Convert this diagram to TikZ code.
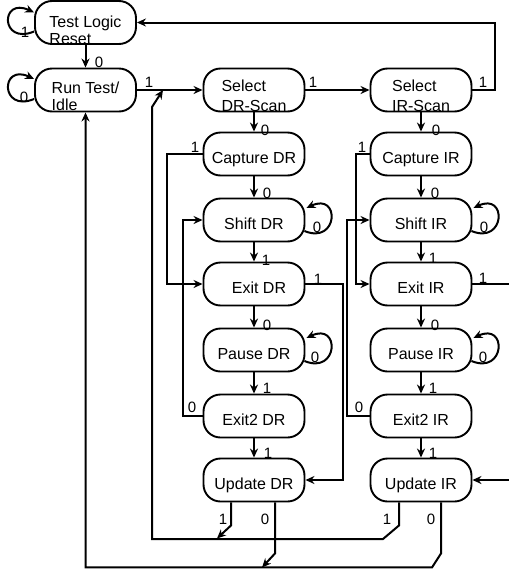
\documentclass[tikz,border=0pt]{standalone}
\usepackage{fontspec}
\setmainfont{Liberation Sans}
\usetikzlibrary{arrows.meta,calc}
\begin{document}
\begin{tikzpicture}[x=1pt,y=-1pt,
  box/.style={draw, line width=1.9pt, rounded corners=17pt, minimum width=101pt, minimum height=43pt, inner sep=0pt},
  one/.style={font=\fontsize{16}{19}\selectfont, text height=18.4pt, text depth=0pt},
  twol/.style={align=left, inner sep=0pt, font=\fontsize{16}{17}\selectfont},
  twolb/.style={align=left, inner sep=0pt, font=\fontsize{16}{20}\selectfont},
  lbl/.style={inner sep=0pt, font=\fontsize{15}{17}\selectfont},
  conn/.style={line width=2pt, -{Stealth[length=9pt,width=8pt]}}]
\useasboundingbox (0,0) rectangle (509,571);
\clip (0,0) rectangle (509,571);

% left column
\node[box] (tlr) at (85.5,22.5) {};
\node[twol] (tlrt) at (85.5,30) {Test Logic\\Reset};
\node[box] (rti) at (85.5,90) {};
\node[twol] (rtit) at (85.5,96) {Run Test/\\Idle};

% DR column
\node[box] (sdr) at (254,90) {};
\node[twolb] (sdrt) at (254,96) {Select\\DR-Scan};
\node[box,one] (cdr) at (254,154) {Capture DR};
\node[box,one] (shdr) at (254,220) {Shift DR};
\node[box,one] (edr) at (254,284) {\hspace*{10pt}Exit DR};
\node[box,one] (pdr) at (254,350) {Pause DR};
\node[box,one] (e2dr) at (254,416) {Exit2 DR};
\node[box,one] (udr) at (254,480) {Update DR};

% IR column
\node[box] (sir) at (421,90) {};
\node[twolb] (sirt) at (421,96) {Select\\IR-Scan};
\node[box,one] (cir) at (421,154) {Capture IR};
\node[box,one] (shir) at (421,220) {Shift IR};
\node[box,one] (eir) at (421,284) {Exit IR};
\node[box,one] (pir) at (421,350) {Pause IR};
\node[box,one] (e2ir) at (421,416) {Exit2 IR};
\node[box,one] (uir) at (421,480) {Update IR};

% self loops
\draw[conn] ([shift={(0,9)}]tlr.west) .. controls +(-34,14) and +(-34,-16) .. ([shift={(0,-10)}]tlr.west);
\draw[conn] ([shift={(0,9)}]rti.west) .. controls +(-34,14) and +(-34,-16) .. ([shift={(0,-11)}]rti.west);
\draw[conn] ([shift={(-1,11)}]shdr.east) .. controls +(34,14) and +(34,-16) .. ([shift={(1,-12)}]shdr.east);
\draw[conn] ([shift={(-1,11)}]pdr.east) .. controls +(34,14) and +(34,-16) .. ([shift={(1,-12)}]pdr.east);
\draw[conn] ([shift={(-1,11)}]shir.east) .. controls +(34,14) and +(34,-16) .. ([shift={(1,-12)}]shir.east);
\draw[conn] ([shift={(-1,11)}]pir.east) .. controls +(34,14) and +(34,-16) .. ([shift={(1,-12)}]pir.east);

% main connectors
\draw[conn] (tlr) -- (rti);
\draw[conn] (rti) -- (sdr);
\draw[conn] (sdr) -- (sir);
\draw[conn] (sir.east) -- ++(23,0) |- (tlr.east);

\draw[conn] (sdr) -- (cdr);
\draw[conn] (cdr) -- (shdr);
\draw[conn] (shdr) -- (edr);
\draw[conn] (edr) -- (pdr);
\draw[conn] (pdr) -- (e2dr);
\draw[conn] (e2dr) -- (udr);
\draw[conn] (cdr.west) -- ++(-36,0) |- (edr.west);
\draw[conn] (e2dr.west) -- ++(-20,0) |- (shdr.west);
\draw[conn] (edr.east) -- ++(38,0) |- (udr.east);

\draw[conn] (sir) -- (cir);
\draw[conn] (cir) -- (shir);
\draw[conn] (shir) -- (eir);
\draw[conn] (eir) -- (pir);
\draw[conn] (pir) -- (e2ir);
\draw[conn] (e2ir) -- (uir);
\draw[conn] (cir.west) -- ++(-14,0) |- (eir.west);
\draw[conn] (e2ir.west) -- ++(-23,0) |- (shir.west);
\draw[conn] (eir.east) -- ++(45,0) |- (uir.east);

% bottom buses
\coordinate (b1r) at (383,539);
\coordinate (b1l) at (152,539);
\coordinate (b1t) at (152,107);
\coordinate (b1e) at (163,90);
\draw[conn] ([xshift=-22]uir.south) -- ++(0,23) -- (b1r) -- (b1l) -- (b1t) -- (b1e);
\draw[conn] ([xshift=-23]udr.south) -- ++(0,23) -- ++(-14,13);
\draw[conn] ([xshift=20]uir.south) -- ++(0,51) -- ++(-9,14) -| (rti.south);
\draw[conn] ([xshift=21]udr.south) -- ++(0,51) -- ++(-13,14);

% labels
\node[lbl] (l01) at (25,32) {1};
\node[lbl] (l02) at (24,97) {0};
\node[lbl] (l03) at (99,62) {0};
\node[lbl] (l04) at (149,82) {1};
\node[lbl] (l05) at (313,82) {1};
\node[lbl] (l06) at (483,82) {1};

\node[lbl] (d01) at (265,130) {0};
\node[lbl] (d02) at (267,193) {0};
\node[lbl] (d03) at (317,227) {0};
\node[lbl] (d04) at (266,260) {1};
\node[lbl] (d05) at (318,279) {1};
\node[lbl] (d06) at (195,147) {1};
\node[lbl] (d07) at (267,325) {0};
\node[lbl] (d08) at (315,357) {0};
\node[lbl] (d09) at (267,388) {1};
\node[lbl] (d10) at (192,407) {0};
\node[lbl] (d11) at (268,453) {1};

\node[lbl] (i01) at (436,130) {0};
\node[lbl] (i02) at (435,193) {0};
\node[lbl] (i03) at (484,227) {0};
\node[lbl] (i04) at (433,258) {1};
\node[lbl] (i05) at (483,278) {1};
\node[lbl] (i06) at (362,147) {1};
\node[lbl] (i07) at (435,325) {0};
\node[lbl] (i08) at (483,357) {0};
\node[lbl] (i09) at (433,388) {1};
\node[lbl] (i10) at (359,407) {0};
\node[lbl] (i11) at (433,453) {1};

\node[lbl] (b01) at (223,519) {1};
\node[lbl] (b02) at (265,519) {0};
\node[lbl] (b03) at (387,519) {1};
\node[lbl] (b04) at (431,519) {0};
\end{tikzpicture}
\end{document}
